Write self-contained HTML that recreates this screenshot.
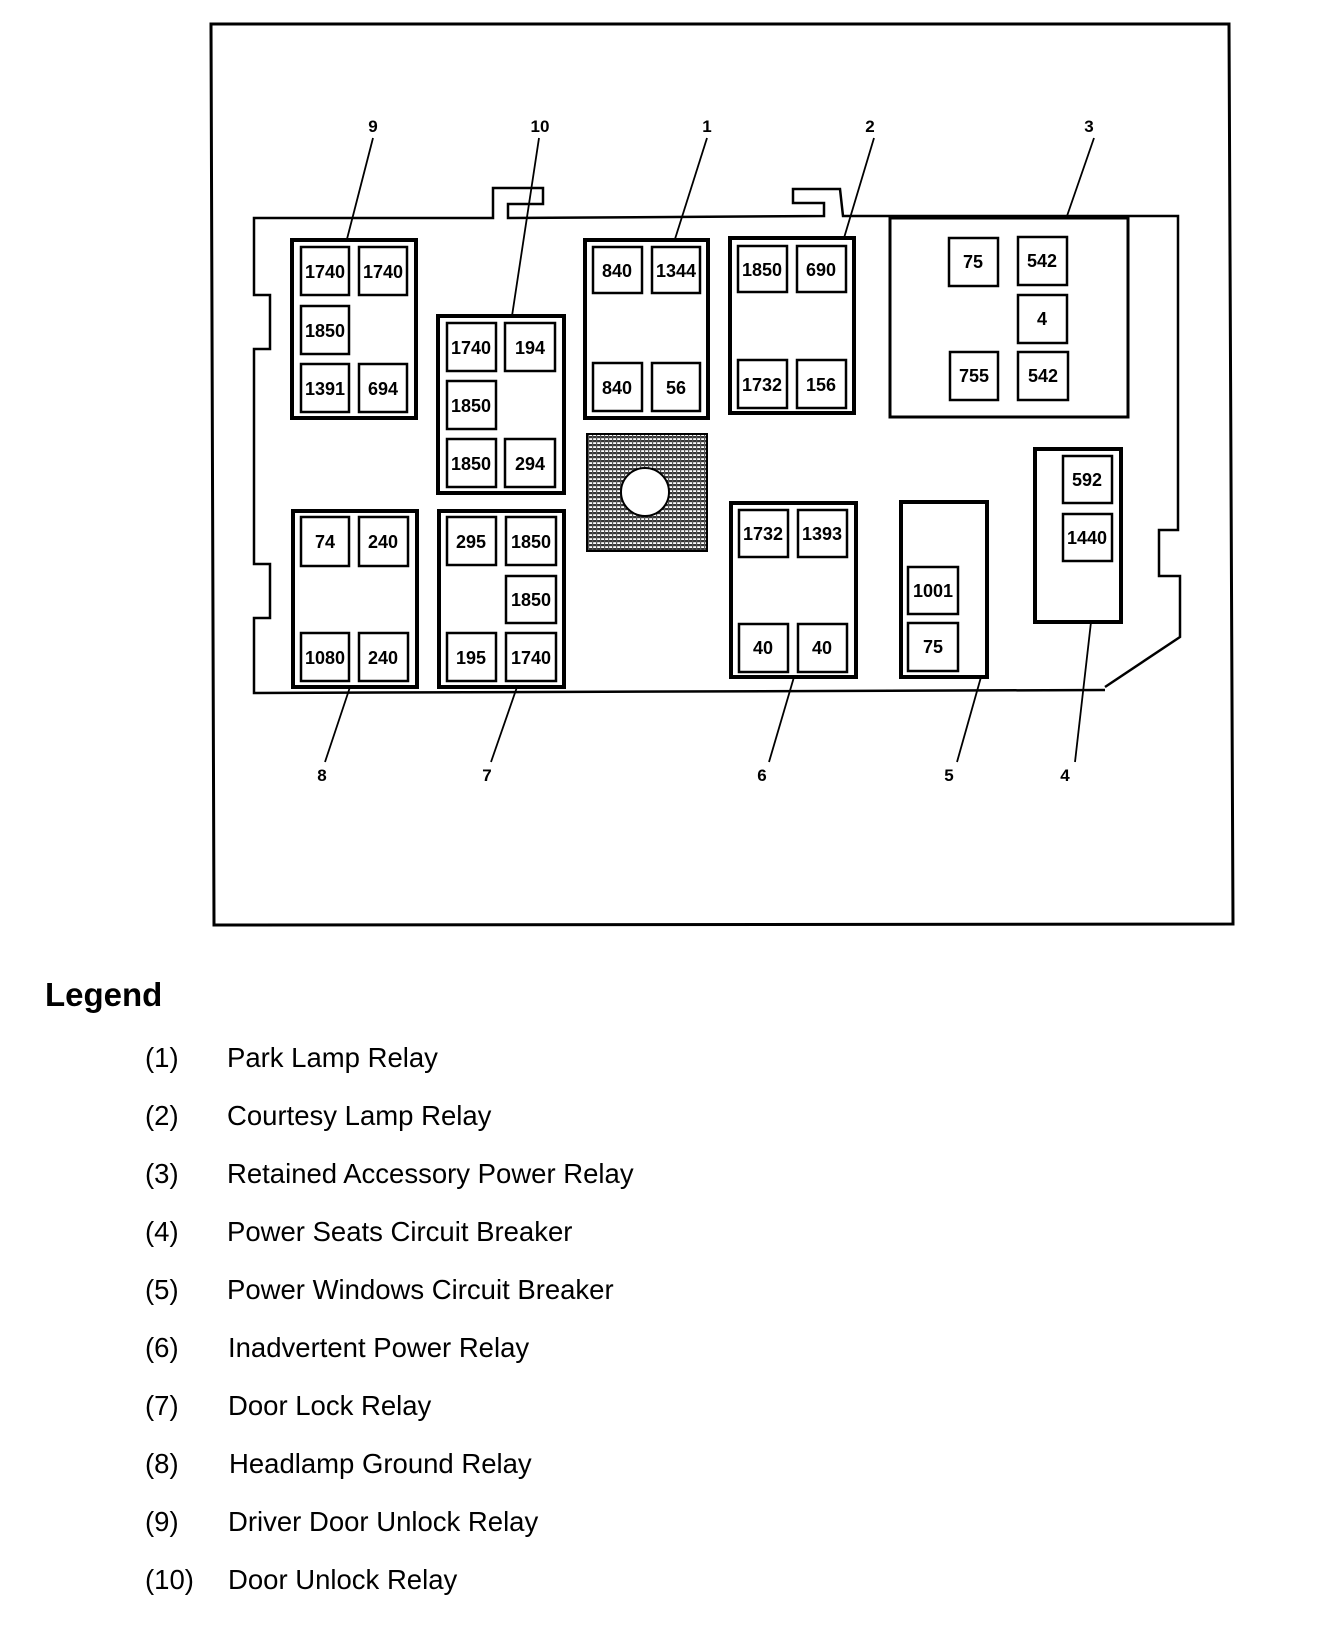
<!DOCTYPE html>
<html><head><meta charset="utf-8"><style>
html,body{margin:0;padding:0;background:#fff;}
svg{display:block;}
.c{fill:#fff;stroke:#000;stroke-width:2.5;}
.b{fill:#fff;stroke:#000;stroke-width:4;}
.n{font-family:"Liberation Sans",sans-serif;font-weight:bold;font-size:18px;text-anchor:middle;}
.l{font-family:"Liberation Sans",sans-serif;font-weight:bold;font-size:17px;text-anchor:middle;}
.g{font-family:"Liberation Sans",sans-serif;font-size:27.5px;}
</style></head><body>
<svg width="1344" height="1638" viewBox="0 0 1344 1638" xmlns="http://www.w3.org/2000/svg">
<defs>
<pattern id="h" width="4" height="4" patternUnits="userSpaceOnUse">
<rect width="4" height="4" fill="#fff"/><rect width="4" height="2.2" fill="#333"/><rect x="0" y="0" width="1.2" height="4" fill="#555"/>
</pattern>
</defs>
<polygon points="211,24 1229,24 1233,924 214,925" fill="none" stroke="#000" stroke-width="3"/>
<polyline fill="none" stroke="#000" stroke-width="2.5" points="1105,690 254,693 254,618 270,618 270,564 254,564 254,349 270,349 270,295 254,295 254,218 493,218 493,188 543,188 543,204 508,204 508,218 824,216 824,203 793,203 793,189 840,189 843,216 1178,216 1178,530 1159,530 1159,576 1180,576 1180,637 1105,687"/>
<g stroke="#000" stroke-width="1.8">
<line x1="373" y1="138" x2="347" y2="239"/>
<line x1="539" y1="138" x2="512" y2="316"/>
<line x1="707" y1="138" x2="675" y2="239"/>
<line x1="874" y1="138" x2="844" y2="238"/>
<line x1="1094" y1="138" x2="1067" y2="216"/>
<line x1="350" y1="687" x2="325" y2="762"/>
<line x1="517" y1="687" x2="491" y2="762"/>
<line x1="794" y1="677" x2="769" y2="762"/>
<line x1="981" y1="677" x2="957" y2="762"/>
<line x1="1091" y1="622" x2="1075" y2="762"/>
</g>
<g class="l">
<text x="373" y="132">9</text><text x="540" y="132">10</text><text x="707" y="132">1</text><text x="870" y="132">2</text><text x="1089" y="132">3</text>
<text x="322" y="781">8</text><text x="487" y="781">7</text><text x="762" y="781">6</text><text x="949" y="781">5</text><text x="1065" y="781">4</text>
</g>
<rect class="b" x="292" y="240" width="124" height="178"/>
<rect class="b" x="438" y="316" width="126" height="177"/>
<rect class="b" x="293" y="511" width="124" height="176"/>
<rect class="b" x="439" y="511" width="125" height="176"/>
<rect class="b" x="585" y="240" width="123" height="178"/>
<rect x="587" y="434" width="120" height="117" fill="url(#h)" stroke="#000" stroke-width="2"/>
<circle cx="645" cy="492" r="24" fill="#fff" stroke="#000" stroke-width="2"/>
<rect class="b" x="730" y="238" width="124" height="175"/>
<rect x="890" y="218" width="238" height="199" fill="#fff" stroke="#000" stroke-width="3"/>
<rect class="b" x="1035" y="449" width="86" height="173"/>
<rect class="b" x="901" y="502" width="86" height="175"/>
<rect class="b" x="731" y="503" width="125" height="174"/>
<g>
<rect class="c" x="301" y="247" width="48" height="48"/><rect class="c" x="359" y="247" width="48" height="48"/>
<rect class="c" x="301" y="306" width="48" height="48"/>
<rect class="c" x="301" y="364" width="48" height="48"/><rect class="c" x="359" y="364" width="48" height="48"/>
<rect class="c" x="447" y="323" width="49" height="48"/><rect class="c" x="505" y="323" width="50" height="48"/>
<rect class="c" x="447" y="381" width="49" height="48"/>
<rect class="c" x="447" y="439" width="49" height="48"/><rect class="c" x="505" y="439" width="50" height="48"/>
<rect class="c" x="301" y="517" width="48" height="49"/><rect class="c" x="359" y="517" width="49" height="49"/>
<rect class="c" x="301" y="633" width="48" height="48"/><rect class="c" x="359" y="633" width="49" height="48"/>
<rect class="c" x="447" y="517" width="49" height="48"/><rect class="c" x="506" y="517" width="50" height="48"/>
<rect class="c" x="506" y="576" width="50" height="47"/>
<rect class="c" x="447" y="633" width="49" height="48"/><rect class="c" x="506" y="633" width="50" height="48"/>
<rect class="c" x="593" y="247" width="49" height="46"/><rect class="c" x="652" y="247" width="48" height="46"/>
<rect class="c" x="593" y="363" width="49" height="48"/><rect class="c" x="652" y="363" width="48" height="48"/>
<rect class="c" x="738" y="246" width="49" height="46"/><rect class="c" x="797" y="246" width="49" height="46"/>
<rect class="c" x="738" y="360" width="49" height="48"/><rect class="c" x="797" y="360" width="49" height="48"/>
<rect class="c" x="949" y="238" width="49" height="48"/><rect class="c" x="1018" y="237" width="49" height="48"/>
<rect class="c" x="1018" y="295" width="49" height="48"/>
<rect class="c" x="950" y="352" width="48" height="48"/><rect class="c" x="1018" y="352" width="50" height="48"/>
<rect class="c" x="1063" y="456" width="49" height="47"/><rect class="c" x="1063" y="514" width="49" height="47"/>
<rect class="c" x="908" y="567" width="50" height="47"/><rect class="c" x="908" y="623" width="50" height="48"/>
<rect class="c" x="739" y="510" width="49" height="47"/><rect class="c" x="798" y="510" width="49" height="47"/>
<rect class="c" x="739" y="624" width="49" height="48"/><rect class="c" x="798" y="624" width="49" height="48"/>
</g>
<g class="n">
<text x="325" y="278">1740</text><text x="383" y="278">1740</text>
<text x="325" y="337">1850</text>
<text x="325" y="395">1391</text><text x="383" y="395">694</text>
<text x="471" y="354">1740</text><text x="530" y="354">194</text>
<text x="471" y="412">1850</text>
<text x="471" y="470">1850</text><text x="530" y="470">294</text>
<text x="325" y="548">74</text><text x="383" y="548">240</text>
<text x="325" y="664">1080</text><text x="383" y="664">240</text>
<text x="471" y="548">295</text><text x="531" y="548">1850</text>
<text x="531" y="606">1850</text>
<text x="471" y="664">195</text><text x="531" y="664">1740</text>
<text x="617" y="277">840</text><text x="676" y="277">1344</text>
<text x="617" y="394">840</text><text x="676" y="394">56</text>
<text x="762" y="276">1850</text><text x="821" y="276">690</text>
<text x="762" y="391">1732</text><text x="821" y="391">156</text>
<text x="973" y="268">75</text><text x="1042" y="267">542</text>
<text x="1042" y="325">4</text>
<text x="974" y="382">755</text><text x="1043" y="382">542</text>
<text x="1087" y="486">592</text><text x="1087" y="544">1440</text>
<text x="933" y="597">1001</text><text x="933" y="653">75</text>
<text x="763" y="540">1732</text><text x="822" y="540">1393</text>
<text x="763" y="654">40</text><text x="822" y="654">40</text>
</g>
<text x="45" y="1006" font-family="Liberation Sans,sans-serif" font-weight="bold" font-size="33">Legend</text>
<g class="g">
<text x="145" y="1067">(1)</text><text x="227" y="1067">Park Lamp Relay</text>
<text x="145" y="1125">(2)</text><text x="227" y="1125">Courtesy Lamp Relay</text>
<text x="145" y="1183">(3)</text><text x="227" y="1183">Retained Accessory Power Relay</text>
<text x="145" y="1241">(4)</text><text x="227" y="1241">Power Seats Circuit Breaker</text>
<text x="145" y="1299">(5)</text><text x="227" y="1299">Power Windows Circuit Breaker</text>
<text x="145" y="1357">(6)</text><text x="228" y="1357">Inadvertent Power Relay</text>
<text x="145" y="1415">(7)</text><text x="228" y="1415">Door Lock Relay</text>
<text x="145" y="1473">(8)</text><text x="229" y="1473">Headlamp Ground Relay</text>
<text x="145" y="1531">(9)</text><text x="228" y="1531">Driver Door Unlock Relay</text>
<text x="145" y="1589">(10)</text><text x="228" y="1589">Door Unlock Relay</text>
</g>
</svg>
</body></html>
